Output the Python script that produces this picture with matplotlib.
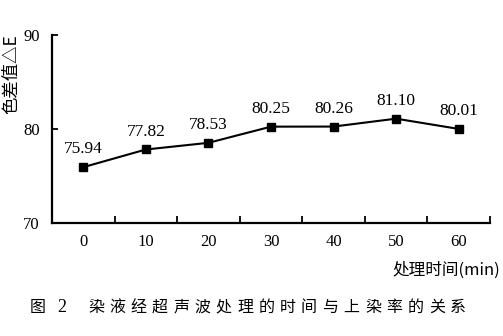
import matplotlib.pyplot as plt
import numpy as np

# data
times = ['0', '10', '20', '30', '40', '50', '60']
delta_e = [75.94, 77.82, 78.53, 80.25, 80.26, 81.10, 80.01]
labels = ['75.94', '77.82', '78.53', '80.25', '80.26', '81.10', '80.01']
y_ticks = [70, 80, 90]
caption = '染液经超声波处理的时间与上染率的关系'

serif = ['Liberation Serif', 'DejaVu Serif']
cjk = ['Noto Sans CJK SC', 'DejaVu Sans']

fig = plt.figure(figsize=(5.03, 3.36), dpi=100)
ax = fig.add_axes([0.1034, 0.3363, 0.8706, 0.5595])

x = np.arange(len(times))
ax.plot(x, delta_e, color='black', lw=1.5, marker='s', ms=5.5)
for xi, yi, lab in zip(x, delta_e, labels):
    ax.annotate(lab, (xi, yi), xytext=(0, 7), textcoords='offset points',
                ha='center', va='bottom', fontsize=12.5, family=serif)

ax.set_xlim(-0.5, len(times) - 0.5)
ax.set_ylim(70, 90)
ax.set_yticks(y_ticks)
ax.set_yticklabels([str(t) for t in y_ticks], family=serif, fontsize=12)
# category boundaries carry the ticks, labels sit in the middle
ax.set_xticks(x + 0.5)
ax.set_xticklabels([])
ax.set_xticks(x, minor=True)
ax.set_xticklabels(times, minor=True, family=serif, fontsize=12)
ax.tick_params(axis='x', which='major', direction='in', length=5, width=1.3)
ax.tick_params(axis='x', which='minor', length=0, pad=8)
ax.tick_params(axis='y', direction='in', length=4, width=1.3, pad=9)

for s in ['top', 'right']:
    ax.spines[s].set_visible(False)
for s in ['left', 'bottom']:
    ax.spines[s].set_linewidth(1.6)

fig.text(0.022, 0.78, '色差值△E', rotation=90, ha='center', va='center',
         fontsize=12.5, family=cjk)
fig.text(0.995, 0.195, '处理时间(min)', ha='right', va='center',
         fontsize=12, family=cjk)

# spaced-out figure caption
fig.text(30 / 503, 0.086, '图', ha='left', va='center', fontsize=11.5, family=cjk)
fig.text(57 / 503, 0.086, '2', ha='left', va='center', fontsize=13, family=serif)
for i, ch in enumerate(caption):
    fig.text((88 + i * 21.3) / 503, 0.086, ch, ha='left', va='center',
             fontsize=11.5, family=cjk)

fig.savefig('out.png', dpi=100)
